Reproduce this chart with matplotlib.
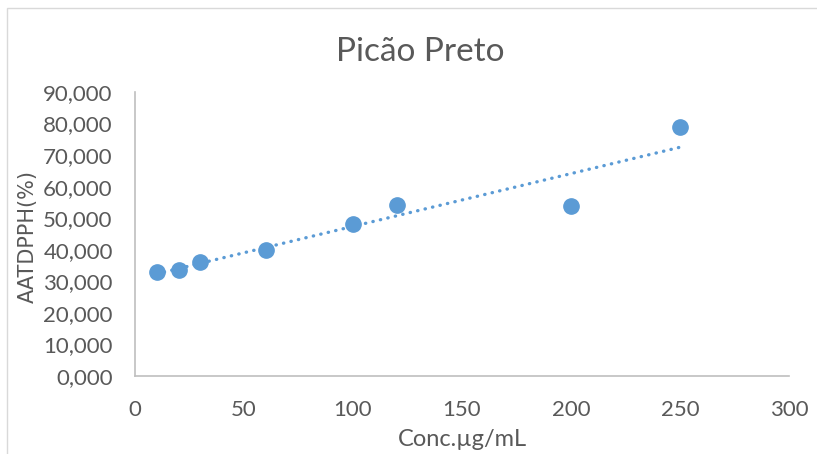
import numpy as np
import matplotlib
matplotlib.use('Agg')
import matplotlib.pyplot as plt
from matplotlib.ticker import FuncFormatter
from matplotlib.patches import Rectangle

# data
conc = [10, 20, 30, 60, 100, 120, 200, 250]
aat = [32.9, 33.6, 36.1, 39.9, 48.2, 54.2, 53.9, 78.9]
title = 'Picão Preto'
xlabel = 'Conc.µg/mL'
ylabel = 'AATDPPH(%)'

blue = '#5B9BD5'
grey = '#595959'
tickfont = 'Lato'

fig = plt.figure(figsize=(8.17, 4.54), dpi=100)
ax = fig.add_axes([135/817, 1-376/454, (789-135)/817, (376-92)/454])

# outer chart border
fig.patches.append(Rectangle((7/817, -0.1), 1.2, 1.1-8/454, transform=fig.transFigure,
                             fill=False, edgecolor='#D9D9D9', lw=1.0))

# linear trendline
k, b = np.polyfit(conc, aat, 1)
xt = np.array([min(conc), max(conc)])
ax.plot(xt, k*xt + b, color=blue, lw=2.4, linestyle=(0, (0.1, 2.2)),
        dash_capstyle='round', zorder=2)

ax.plot(conc, aat, 'o', color=blue, ms=11, zorder=3)

ax.set_xlim(0, 300)
ax.set_ylim(0, 90)
ax.set_xticks(np.arange(0, 301, 50))
ax.set_yticks(np.arange(0, 91, 10))
ax.yaxis.set_major_formatter(FuncFormatter(lambda v, p: ('%.3f' % v).replace('.', ',')))

for s in ['top', 'right']:
    ax.spines[s].set_visible(False)
for s in ['left', 'bottom']:
    ax.spines[s].set_color('#BFBFBF')
    ax.spines[s].set_linewidth(1.2)
ax.tick_params(length=0, labelcolor=grey)
ax.tick_params(axis='y', pad=16)
ax.tick_params(axis='x', pad=17)
for lab in ax.get_xticklabels() + ax.get_yticklabels():
    lab.set_family(tickfont)
    lab.set_fontsize(16)

ax.set_xlabel(xlabel, fontsize=17, color=grey, family=tickfont)
ax.xaxis.label.set_va('center')
ax.xaxis.set_label_coords(0.5, -(440-376)/284)
ax.set_ylabel(ylabel, fontsize=15, color=grey)
ax.yaxis.label.set_va('center')
ax.yaxis.set_label_coords((28-135)/654, 0.49)
fig.text(420/817, 1-52/454, title, ha='center', va='center', fontsize=24,
         color=grey, family=tickfont)

plt.savefig('out.png', dpi=100)
